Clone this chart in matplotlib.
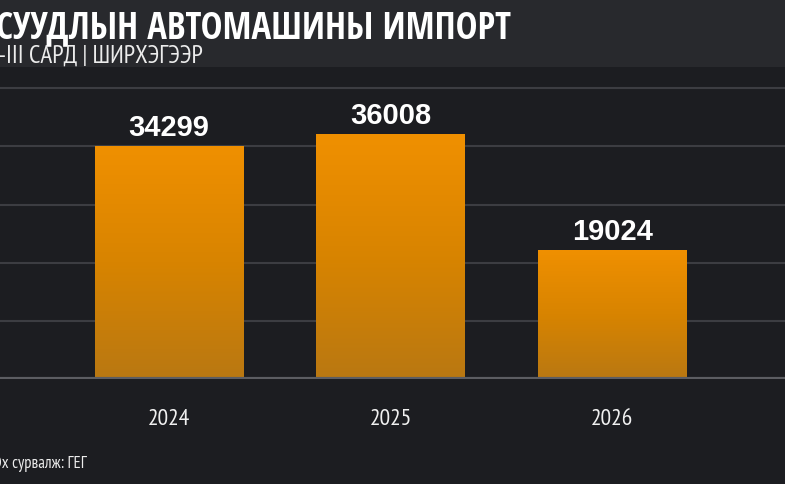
import numpy as np
import matplotlib.pyplot as plt
from matplotlib.colors import LinearSegmentedColormap
from matplotlib.patches import Rectangle

years = ["2024", "2025", "2026"]
imports = [34299, 36008, 19024]
grid_step = 8550

title = "СУУДЛЫН АВТОМАШИНЫ ИМПОРТ"
subtitle = "I-III САРД | ШИРХЭГЭЭР"
source = "Эх сурвалж: ГЕГ"

bg = "#1c1d21"
band = "#28292d"
cond = ["Open Sans Condensed", "DejaVu Sans"]
narrow = ["PT Sans Narrow", "DejaVu Sans"]

fig = plt.figure(figsize=(7.85, 4.85), dpi=100, facecolor=bg)
fig.patches.append(Rectangle((0, 1 - 68 / 485), 1, 68 / 485, transform=fig.transFigure,
                             facecolor=band, edgecolor="none", zorder=0))

ax = fig.add_axes([0, 105 / 485, 1, 312 / 485])
ax.set_facecolor(bg)
ax.patch.set_alpha(0)

x = np.arange(len(years))
bars = ax.bar(x, imports, width=0.67, color="#e88e00", zorder=2)

# vertical gradient on the bars
cmap = LinearSegmentedColormap.from_list("g", ["#b97812", "#d88400", "#f09000"])
grad = np.linspace(0, 1, 256).reshape(-1, 1)
for b in bars:
    im = ax.imshow(grad, cmap=cmap, origin="lower", aspect="auto", zorder=3,
                   extent=[b.get_x(), b.get_x() + b.get_width(), 0, b.get_height()])
    im.set_clip_path(b)

for xi, v in zip(x, imports):
    ax.text(xi, v + 700, str(v), ha="center", va="bottom", color="white",
            fontsize=21, fontweight="bold", family="Liberation Sans", zorder=4)

ax.set_xlim(-0.763, 2.78)
ax.set_ylim(0, 312 * 147)
for k in range(1, 6):
    ax.axhline(k * grid_step, color="#3c3d42", lw=1.5, zorder=1)
ax.axhline(0, color="#5c5d62", lw=3, zorder=5)

ax.set_xticks(x)
ax.set_xticklabels(years, color="#f0f0f0", fontsize=17, family=narrow)
ax.tick_params(axis="x", length=0, pad=21)
ax.set_yticks([])
for s in ax.spines.values():
    s.set_visible(False)

fig.text(-0.005, 1 - 38 / 485, title, color="white", fontsize=26.5, fontweight="bold",
         family=cond, ha="left", va="baseline")
fig.text(-0.009, 1 - 63 / 485, subtitle, color="#ececec", fontsize=18,
         family=narrow, ha="left", va="baseline")
fig.text(-0.008, 1 - 468 / 485, source, color="#ececec", fontsize=12,
         family=narrow, ha="left", va="baseline")

fig.savefig("out.png", dpi=100, facecolor=bg)
